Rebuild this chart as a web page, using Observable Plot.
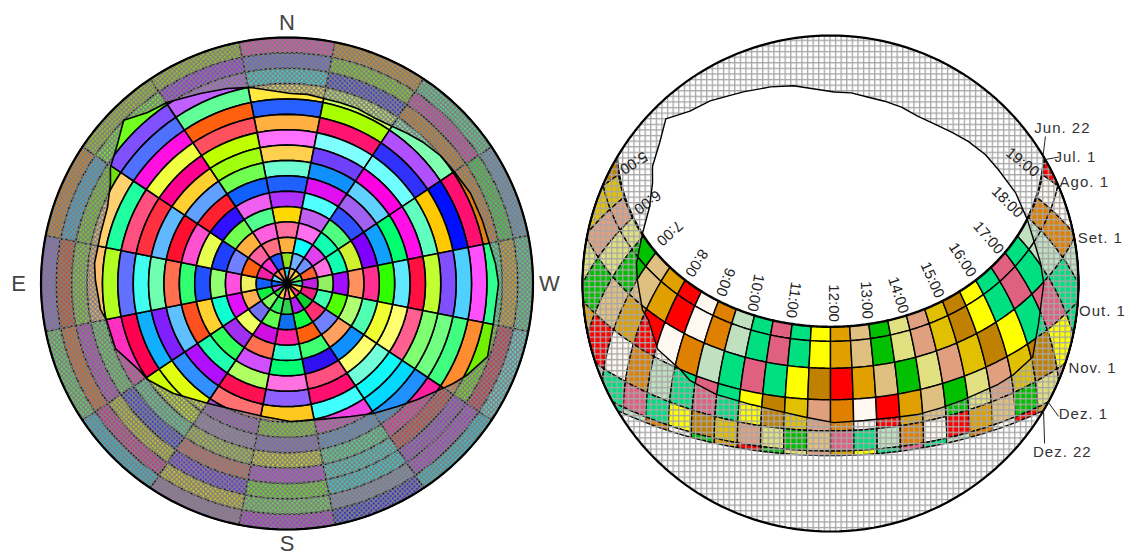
<!DOCTYPE html>
<html><head><meta charset="utf-8">
<style>html,body{margin:0;padding:0;background:#fff}svg{display:block}</style>
<script src="https://cdn.jsdelivr.net/npm/d3@7"></script>
<script src="https://cdn.jsdelivr.net/npm/@observablehq/plot@0.6"></script>
</head><body><div id="chart"></div>
<script>
// LEFT DOME: cell colours per azimuth sector (N clockwise on screen), outermost ring first
const sector00=["#ff40c0","#6464e6","#28e6e6","#ffe840","#2860ff","#ffb040","#ff70ff","#ffd050","#70ffd0","#2060ff","#b030ff","#ffd800","#ff70a0","#ffb040","#90e020","#20d0f0"];
const sector01=["#e09010","#80e010","#3030e0","#c8ff60","#a8ff00","#ff1470","#80ffff","#7040ff","#1090ff","#e010f0","#50ffff","#c060f0","#ff70f0","#10ffff","#70b0ff","#ffb060"];
const sector02=["#50e090","#e030b0","#e08010","#80ffb0","#b050ff","#3030ff","#70ffff","#ff00e0","#60d0ff","#a060f0","#3050ff","#50ff80","#10ffb0","#e040f0","#7090ff","#ffd040"];
const sector03=["#60a0d0","#30e030","#e08010","#ff1070","#0010ff","#ffc800","#60ffc0","#ff10e8","#00ff70","#10a0ff","#8000ff","#d0f030","#10ffb0","#ff70e0","#ff6030","#70e040"];
const sector04=["#50e090","#e0b010","#30ff90","#ff50ff","#50d0ff","#8050ff","#c0ff30","#ff1040","#60e8ff","#30ff00","#ff3090","#ff9060","#a010ff","#90f060","#c020e0","#40e0a0"];
const sector05=["#60e0e0","#e02040","#70f000","#ff8c30","#40ff80","#70ff80","#80ff70","#ff6090","#ffff70","#f0ff30","#50ffb0","#b0ff70","#50ff00","#40ffb0","#f02080","#ffd040"];
const sector06=["#20d0e0","#b030e0","#a030e0","#e03030","#ff20a0","#2090ff","#00d8ff","#10f8f8","#70ffd8","#ffff70","#1090ff","#ffa060","#7080ff","#ff3070","#10d030","#ff4080"];
const sector07=["#2020e0","#8090c0","#20e0e0","#30e0d0","#40f090","#5090e0","#f040e0","#40ffff","#ff1070","#ff5080","#3010f0","#40ff70","#ff6010","#10ff40","#b020f0","#ffe000"];
const sector08=["#b820e8","#68e850","#60f010","#c030f0","#e0e010","#8060d0","#80e010","#ffc820","#9060ff","#ff70e0","#00ff70","#30ffd0","#ff20a0","#1070f0","#30d050","#ff70a0"];
const sector09=["#a070b0","#e0d010","#6020f0","#e06050","#b0d030","#a080c0","#a050d0","#ff7070","#ff1050","#b0ff60","#d050ff","#ff7050","#d010e0","#60ff50","#30f060","#ffd040"];
const sector10=["#20c0e0","#e02090","#d0d010","#3030e0","#50e090","#d0ff00","#e0ff10","#3090ff","#b010ff","#20ffb0","#30ff60","#a030f0","#f0ff60","#7070f0","#80ff60","#30e030"];
const sector11=["#60e060","#f06010","#c030d0","#60e060","#ff30c0","#ff0050","#10b0ff","#8020ff","#60c0ff","#ff5020","#ffd030","#10ffd0","#e010ff","#ffb050","#10f040","#d040f0"];
const sector12=["#8860e0","#e04010","#80e020","#ffc070","#b0ff20","#6070ff","#40fff0","#70ffb0","#ff7050","#30ff70","#2050ff","#90ff70","#ff50e0","#f0f060","#1060ff","#1060ff"];
const sector13=["#e08010","#30b0e0","#70e010","#ffd070","#20ffa0","#ff5080","#ff3040","#60b8ff","#ff1030","#ff50d0","#e8ff50","#2040ff","#7080ff","#ff6010","#f020a0","#70d0ff"];
const sector14=["#a0d010","#70ff20","#8050ff","#5070ff","#ff10e0","#f0ff40","#ff0090","#ffd030","#60a0ff","#ff2030","#3010ff","#70ff50","#ffb040","#ff60a0","#ff30d0","#ff9050"];
const sector15=["#a0d010","#a020ff","#c060ff","#60ff98","#ff6010","#ff5060","#c0ff00","#a0ff10","#70ff50","#1060ff","#f060f0","#50ff90","#ff60e0","#ff7080","#2050ff","#ff8040"];
const sectors=[sector00,sector01,sector02,sector03,sector04,sector05,sector06,sector07,sector08,sector09,sector10,sector11,sector12,sector13,sector14,sector15];

// Horizon line: azimuth (deg, N clockwise on screen) and altitude (deg)
const skylineAz =[1.1,6.2,11.2,16.5,21.9,27.5,33.9,38.8,44.1,50.2,55.8,63.9,72.1,78,84.5,90,101,105.4,110,116.8,121,124.6,131.6,138.1,146.4,154.5,166.2,178.5,190,203,213.2,225.9,235.5,240,249.2,258.7,262,270.9,276,285,292.9,299.5,303.3,309.6,315,320.8,326.6,335.5,343,349.4];
const skylineAlt=[20.5,20.4,21,21,21,21.5,20.8,19.6,18.2,16.9,16.4,15.2,14.9,14.6,13.4,12.6,13.1,12.8,11.9,16,19,21.8,26.1,29.5,32.9,36.1,38.8,39.5,40.6,39.9,37.5,32.2,28,27.2,22.9,22.6,21.1,19.9,19.2,19.4,18.7,15.8,12.7,9.6,5.5,9.3,10.6,13.6,15.4,17];

// RIGHT DOME: sun path
const latitude=39;
const dateNames=["Jun. 22","Jul. 1","Ago. 1","Set. 1","Out. 1","Nov. 1","Dez. 1","Dez. 22"];
const declinations=[23.45,23.1,18,8.2,-3.2,-14.5,-21.8,-23.45];
const dateLabelAz=[56.2,62.7,68.2,80.4,95.8,108,117.3,126];
const dateLabelZ =[101.3,100,99.2,99.3,99.2,100,103.3,104];
const leaderFromAz=[59,60,null,null,null,null,118.6,120.8];
const leaderToAz  =[55.7,61,null,null,null,null,120.2,126.7];
const leaderToZ   =[94.4,94.6,null,null,null,null,95.7,96.9];
const palette={g:"#e0a000",t:"#e0c080",n:"#00c000",k:"#e0e080",s:"#e0a080",d:"#e0c000",b:"#c08000",y:"#ffff00",f:"#00e080",r:"#e06080",p:"#c0e0c0",o:"#e08000",c:"#fff8f0",x:"#ff0000"};
const firstHalfHour=4.5;
const row0="b d s k n t g x c o p f r f y g t n k s d b y f r f p o c x".split(" ");
const row1="b d s k n t g x c o p f r f y g t n k s d b y f r f p o c x".split(" ");
const row2="b d s k n t g x c o p f r f y g t n k s d b y f r f p o c x".split(" ");
const row3="d s k n t g x c o p f r f y b x g t n k s d b y f r f p o c".split(" ");
const row4="k n t g x c o p f r f y b d s o c x g t n k s d b y f r f p".split(" ");
const row5="g x c o p f r f y b d s k n t r f p o c x g t n k s d b y f".split(" ");
const row6="d b y f r f p o c n g x n k s g y f r f p o c x g t n k s d".split(" ");
const rows=[row0,row1,row2,row3,row4,row5,row6];
const hourNames=["5:00","6:00","7:00","8:00","9:00","10:00","11:00","12:00","13:00","14:00","15:00","16:00","17:00","18:00","19:00"];
const hourRotate=[148,143,138,122,111,101,98,90,87,72,66,57,49,45,38];
const hourLabelAz=[301.5,294,287.4,278.7,270.8,262.8,246,171.3,114.6,99.6,88,79.9,73.9,65.3,57.7];
const hourLabelZ =[83.8,72.7,61.2,49.2,38.1,27.4,14.7,7.2,14.4,25,37,48.7,59.7,70.7,82.4];
const compassNames=["N","E","W","S"];
const compassAz=[0,270,90,180];
const compassZ=[95.5,98.2,96,95.4];

// layout of the two domes
const pxPerDeg=246/90, leftCx=286.5, cy=283, rightShift=(830-286.5)/pxPerDeg, rightScale=248/246;
const rad=Math.PI/180;
const leftXY=(az,z)=>[z*Math.sin(az*rad),-z*Math.cos(az*rad)];
const rightXY=(az,z)=>[rightShift+rightScale*z*Math.sin(az*rad),-rightScale*z*Math.cos(az*rad)];
function sunXY(h,dec){
  const H=(h-12)*15*rad,d=dec*rad,p=latitude*rad;
  const sa=Math.sin(p)*Math.sin(d)+Math.cos(p)*Math.cos(d)*Math.cos(H);
  const z=Math.min(90,90-Math.asin(sa)/rad);
  const w=Math.cos(d)*Math.sin(H), n=Math.sin(d)*Math.cos(p)-Math.cos(d)*Math.cos(H)*Math.sin(p);
  return rightXY(Math.atan2(w,n)/rad,z);
}
const toPt=(p,id,c)=>({x:p[0],y:p[1],id,c});

// left cells
const leftCells=[];
sectors.forEach((colors,k)=>colors.forEach((c,j)=>{
  const az0=k*22.5-11.25, az1=k*22.5+11.25, zo=90*(16-j)/16, zi=90*(15-j)/16, id=`L${k}-${j}`;
  const steps=d3.range(0,1.0001,0.125);
  steps.forEach(t=>leftCells.push(toPt(leftXY(az0+(az1-az0)*t,zo),id,c)));
  steps.slice().reverse().forEach(t=>leftCells.push(toPt(leftXY(az0+(az1-az0)*t,zi),id,c)));
}));
// right cells
const rightCells=[];
rows.forEach((row,r)=>row.forEach((code,i)=>{
  const h0=firstHalfHour+i/2,h1=h0+.5,d0=declinations[r],d1=declinations[r+1],id=`R${r}-${i}`,c=palette[code];
  const ts=d3.range(0,1.0001,0.1);
  ts.forEach(t=>rightCells.push(toPt(sunXY(h0+.5*t,d0),id,c)));
  ts.forEach(t=>rightCells.push(toPt(sunXY(h1,d0+(d1-d0)*t),id,c)));
  ts.slice().reverse().forEach(t=>rightCells.push(toPt(sunXY(h0+.5*t,d1),id,c)));
  ts.slice().reverse().forEach(t=>rightCells.push(toPt(sunXY(h0,d0+(d1-d0)*t),id,c)));
}));
// horizon & outer circle
const circleAz=d3.range(0,360.01,2);
const circle=f=>circleAz.map(a=>{const p=f(a,90);return {x:p[0],y:p[1]};});
const skyline=f=>skylineAz.map((a,i)=>{const p=f(a,90-skylineAlt[i]);return {x:p[0],y:p[1]};});
const closed=a=>a.concat([a[0]]);
const keyhole=f=>circle(f).concat(closed(skyline(f)).reverse());
const dateLabels=dateNames.map((name,i)=>{const p=rightXY(dateLabelAz[i],dateLabelZ[i]);return {name,x:p[0],y:p[1]};});
const leaders=[];
dateNames.forEach((n,i)=>{ if(leaderFromAz[i]==null) return;
  const a=rightXY(leaderFromAz[i],90),b=rightXY(leaderToAz[i],leaderToZ[i]);
  leaders.push({id:n,x:a[0],y:a[1]},{id:n,x:b[0],y:b[1]});
});
const hourLabels=hourNames.map((t,i)=>{const p=rightXY(hourLabelAz[i],hourLabelZ[i]);return {t,x:p[0],y:p[1],r:hourRotate[i]};});
const compassLabels=compassNames.map((t,i)=>{const p=leftXY(compassAz[i],compassZ[i]);return {t,x:p[0],y:p[1]};});

const defs=()=>{
  const g=document.createElementNS("http://www.w3.org/2000/svg","defs");
  g.innerHTML=`<pattern id="dots" patternUnits="userSpaceOnUse" width="4.8" height="4.8">
     <path fill="#808080" fill-rule="evenodd" d="M0 0H4.8V4.8H0Z M.3 .3h1.8v1.8h-1.8Z M2.7 2.7h1.8v1.8h-1.8Z"/></pattern>
   <pattern id="mesh" patternUnits="userSpaceOnUse" width="5.6" height="5.6">
     <rect width="5.6" height="1.3" fill="#a6a6a6"/><rect width="1.3" height="5.6" fill="#a6a6a6"/></pattern>`;
  return g;
};
const chart=Plot.plot({
  width:1126,height:556,margin:0,
  style:{background:"transparent",fontFamily:"'Liberation Sans',Arial,sans-serif"},
  x:{axis:null,domain:[-leftCx/pxPerDeg,(1126-leftCx)/pxPerDeg],range:[0,1126]},
  y:{axis:null,domain:[-cy/pxPerDeg,(556-cy)/pxPerDeg],range:[0,556]},
  color:{type:"identity"},
  marks:[
    defs,
    Plot.line(leftCells,{x:"x",y:"y",z:"id",fill:"c",stroke:"#000",strokeWidth:1.6,curve:"linear-closed"}),
    Plot.line(keyhole(leftXY),{x:"x",y:"y",fill:"url(#dots)",stroke:"none",curve:"linear"}),
    Plot.line(closed(skyline(leftXY)),{x:"x",y:"y",stroke:"#000",strokeWidth:1.6}),
    Plot.line(closed(circle(leftXY)),{x:"x",y:"y",stroke:"#000",strokeWidth:2.2}),
    Plot.line(rightCells,{x:"x",y:"y",z:"id",fill:"c",stroke:"#000",strokeWidth:1.4,curve:"linear-closed"}),
    Plot.line(keyhole(rightXY),{x:"x",y:"y",fill:"url(#mesh)",stroke:"none",curve:"linear"}),
    Plot.line(closed(skyline(rightXY)),{x:"x",y:"y",stroke:"#000",strokeWidth:1.4}),
    Plot.line(closed(circle(rightXY)),{x:"x",y:"y",stroke:"#000",strokeWidth:2.2}),
    Plot.line(leaders,{x:"x",y:"y",z:"id",stroke:"#222",strokeWidth:1}),
    Plot.text(hourLabels,{x:"x",y:"y",text:"t",rotate:"r",fontSize:15,fill:"#222"}),
    Plot.text(dateLabels,{x:"x",y:"y",text:"name",fontSize:15,fill:"#333"}),
    Plot.text(compassLabels,{x:"x",y:"y",text:"t",fontSize:22,fill:"#444"})
  ]
});
// date labels are letter-spaced in the reference
d3.select(chart).selectAll('g[aria-label="text"]').filter((d,i)=>i===1).style("letter-spacing","1px");
document.getElementById("chart").append(chart);
</script></body></html>
